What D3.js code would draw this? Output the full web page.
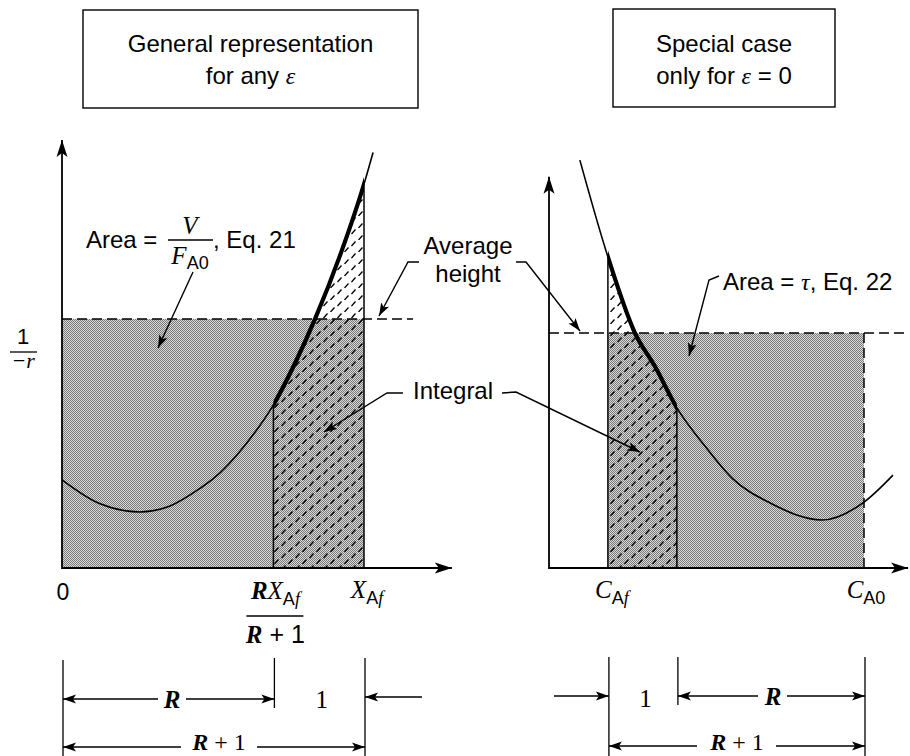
<!DOCTYPE html>
<html>
<head>
<meta charset="utf-8">
<script src="https://cdn.jsdelivr.net/npm/d3@7"></script>
<style>
  body { margin: 0; background: #fff; }
  svg { display: block; }
  text { font-family: "Liberation Sans", Arial, sans-serif; fill: #000; }
  .m { font-family: "Liberation Serif", "Times New Roman", serif; font-style: italic; }
  .b { font-weight: bold; }
  .s { font-family: "Liberation Serif", "Times New Roman", serif; }
</style>
</head>
<body>
<div id="chart"></div>
<script>
// 1/-r; left against conversion X_A, right against C_A
var leftX       = [0, 0.126, 0.258, 0.358, 0.457, 0.5, 0.606, 0.7, 0.772, 0.838, 0.921, 1.0, 1.03];
var leftInvRate = [20.6, 15.0, 13.1, 14.5, 18.6, 20.8, 28.7, 38.1, 47.9, 58.2, 73.1, 89.7, 97.1];
var rightC       = [0.098, 0.187, 0.273, 0.337, 0.406, 0.495, 0.581, 0.702, 0.867, 1.0, 1.092];
var rightInvRate = [95.3, 72.7, 54.9, 47.0, 37.4, 28.5, 21.0, 15.2, 11.2, 15.4, 21.7];

// marks on the x axes: 0, R X_Af/(R+1), X_Af  |  C_Af, split, C_A0
var leftMarks = [0, 0.7, 1.0];
var rightMarks = [0.187, 0.406, 1.0];
// average heights (dashed lines)
var leftAvg = 58.2, rightAvg = 54.9;

var boxTitles = ["General representation", "Special case"];

// set up the svg
var W = 910, H = 756;
var svg = d3.select("#chart").append("svg")
    .attr("width", W)
    .attr("height", H);
var defs = svg.append("defs");

// halftone grey
var grey = defs.append("pattern").attr("id", "grey")
    .attr("width", 2).attr("height", 2)
    .attr("patternUnits", "userSpaceOnUse");
grey.append("rect").attr("width", 2).attr("height", 2).attr("fill", "#d8d8d8");
grey.append("rect").attr("width", 1).attr("height", 1).attr("fill", "#7a7a7a");
grey.append("rect").attr("x", 1).attr("y", 1).attr("width", 1).attr("height", 1).attr("fill", "#7a7a7a");

// short slanted dashes for the integral
var hatch = defs.append("pattern").attr("id", "hatch")
    .attr("width", 14).attr("height", 12)
    .attr("patternUnits", "userSpaceOnUse");
hatch.append("path").attr("d", "M1.5,6L5.5,1.5M8.5,12L12.5,7.5")
    .attr("stroke", "#000").attr("stroke-width", 1.3).attr("fill", "none");

// arrow heads
defs.append("marker").attr("id", "arr")
    .attr("markerUnits", "userSpaceOnUse")
    .attr("markerWidth", 16).attr("markerHeight", 10)
    .attr("refX", 13).attr("refY", 5)
    .attr("orient", "auto-start-reverse")
    .append("path").attr("d", "M0,0.5L13,5L0,9.5L3,5Z").attr("fill", "#000");
defs.append("marker").attr("id", "axarr")
    .attr("markerUnits", "userSpaceOnUse")
    .attr("markerWidth", 20).attr("markerHeight", 12)
    .attr("refX", 17).attr("refY", 6)
    .attr("orient", "auto")
    .append("path").attr("d", "M0,0.5L17,6L0,11.5L4,6Z").attr("fill", "#000");

// scales
var y = d3.scaleLinear().domain([0, 100]).range([568, 140]);
var xL = d3.scaleLinear().domain([0, 1]).range([62, 364]);
var xR = d3.scaleLinear().domain([0, 1]).range([549, 864]);

function valueAt(xs, vs, v) {
    return vs[xs.indexOf(v)];
}

function drawPanel(id, x, xs, vs, intFrom, intTo, rectFrom, rectTo, avg, avgEnd, axisEnd, yTop) {
    var g = svg.append("g").attr("id", id);
    var pts = xs.map(function(d, i) { return [d, vs[i]]; });
    var line = d3.line()
        .x(function(d) { return x(d[0]); })
        .y(function(d) { return y(d[1]); })
        .curve(d3.curveMonotoneX);
    var area = d3.area()
        .x(function(d) { return x(d[0]); })
        .y0(y(0))
        .y1(function(d) { return y(d[1]); })
        .curve(d3.curveMonotoneX);

    defs.append("clipPath").attr("id", id + "-clip")
        .append("rect")
        .attr("x", x(intFrom)).attr("y", 0)
        .attr("width", x(intTo) - x(intFrom)).attr("height", y(0));

    // grey rectangle = area under the average height
    g.append("rect")
        .attr("x", x(rectFrom)).attr("y", y(avg))
        .attr("width", x(rectTo) - x(rectFrom))
        .attr("height", y(0) - y(avg))
        .attr("fill", "url(#grey)");

    // hatched integral
    g.append("path").datum(pts)
        .attr("d", area)
        .attr("clip-path", "url(#" + id + "-clip)")
        .attr("fill", "url(#hatch)");

    // dashed average height
    g.append("line")
        .attr("x1", x(0)).attr("x2", avgEnd)
        .attr("y1", y(avg)).attr("y2", y(avg))
        .attr("stroke", "#000").attr("stroke-width", 1.5)
        .attr("stroke-dasharray", "10,5");

    // solid verticals at the integral limits
    [intFrom, intTo].forEach(function(v) {
        g.append("line")
            .attr("x1", x(v)).attr("x2", x(v))
            .attr("y1", y(valueAt(xs, vs, v))).attr("y2", y(0))
            .attr("stroke", "#000").attr("stroke-width", 1.5);
    });

    // the curve, thick over the integral
    g.append("path").datum(pts)
        .attr("d", line)
        .attr("fill", "none").attr("stroke", "#000").attr("stroke-width", 1.6);
    g.append("path").datum(pts)
        .attr("d", line)
        .attr("clip-path", "url(#" + id + "-clip)")
        .attr("fill", "none").attr("stroke", "#000").attr("stroke-width", 4.2);

    // axes
    g.append("line")
        .attr("x1", x(0)).attr("x2", x(0))
        .attr("y1", y(0) + 1).attr("y2", y(yTop))
        .attr("stroke", "#000").attr("stroke-width", 1.8)
        .attr("marker-end", "url(#axarr)");
    g.append("line")
        .attr("x1", x(0)).attr("x2", x(axisEnd))
        .attr("y1", y(0)).attr("y2", y(0))
        .attr("stroke", "#000").attr("stroke-width", 2)
        .attr("marker-end", "url(#axarr)");
    return g;
}

var gl = drawPanel("left", xL, leftX, leftInvRate, leftMarks[1], leftMarks[2],
    leftMarks[0], leftMarks[2], leftAvg, 413, 1.291, 100);
var gr = drawPanel("right", xR, rightC, rightInvRate, rightMarks[0], rightMarks[1],
    rightMarks[0], rightMarks[2], rightAvg, 905, 1.14, 91.4);

// dashed right edge at C_A0
gr.append("line")
    .attr("x1", xR(rightMarks[2])).attr("x2", xR(rightMarks[2]))
    .attr("y1", y(rightAvg)).attr("y2", y(0))
    .attr("stroke", "#000").attr("stroke-width", 1.5)
    .attr("stroke-dasharray", "10,5");

// title boxes
function titleBox(x0, y0, w, h, l1, l2) {
    svg.append("rect").attr("x", x0).attr("y", y0).attr("width", w).attr("height", h)
        .attr("fill", "none").attr("stroke", "#000").attr("stroke-width", 1.4);
    svg.append("text").attr("x", x0 + w / 2).attr("y", 52)
        .attr("text-anchor", "middle").style("font-size", "24px").text(l1);
    var t = svg.append("text").attr("x", x0 + w / 2).attr("y", 84)
        .attr("text-anchor", "middle").style("font-size", "24px");
    l2(t);
}
titleBox(83, 10, 335, 98, boxTitles[0], function(t) {
    t.append("tspan").text("for any ");
    t.append("tspan").attr("class", "m").text("ε");
});
titleBox(613, 9, 222, 98, boxTitles[1], function(t) {
    t.append("tspan").text("only for ");
    t.append("tspan").attr("class", "m").text("ε");
    t.append("tspan").text(" = 0");
});

// y label 1/-r
svg.append("text").attr("x", 23).attr("y", 344).attr("text-anchor", "middle")
    .style("font-size", "22px").text("1");
svg.append("line").attr("x1", 10).attr("x2", 37).attr("y1", 352).attr("y2", 352)
    .attr("stroke", "#000").attr("stroke-width", 1.3);
svg.append("text").attr("x", 23).attr("y", 368).attr("text-anchor", "middle")
    .attr("class", "m").style("font-size", "22px").text("−r");

// Area = V/F_A0, Eq. 21
svg.append("text").attr("x", 86).attr("y", 248).style("font-size", "24px").text("Area =");
svg.append("text").attr("x", 190).attr("y", 234).attr("text-anchor", "middle")
    .attr("class", "m").style("font-size", "25px").text("V");
svg.append("line").attr("x1", 168).attr("x2", 213).attr("y1", 240).attr("y2", 240)
    .attr("stroke", "#000").attr("stroke-width", 1.3);
var fa = svg.append("text").attr("x", 190).attr("y", 264).attr("text-anchor", "middle")
    .style("font-size", "25px");
fa.append("tspan").attr("class", "m").text("F");
fa.append("tspan").attr("dy", 5).style("font-size", "18px").text("A0");
svg.append("text").attr("x", 213).attr("y", 248).style("font-size", "24px").text(", Eq. 21");

// Average height
svg.append("text").attr("x", 468).attr("y", 254).attr("text-anchor", "middle")
    .style("font-size", "24px").text("Average");
svg.append("text").attr("x", 468).attr("y", 282).attr("text-anchor", "middle")
    .style("font-size", "24px").text("height");

// Area = tau, Eq. 22
var at = svg.append("text").attr("x", 723).attr("y", 290).style("font-size", "24px");
at.append("tspan").text("Area = ");
at.append("tspan").attr("class", "m").text("τ");
at.append("tspan").text(", Eq. 22");

// Integral
svg.append("text").attr("x", 413).attr("y", 399).style("font-size", "24px").text("Integral");

// leader arrows
var leaders = [
    "M193,272L158,348",
    "M419,262L408,262L379,316",
    "M516,262L526,262L580,331",
    "M719,276L709,280L689,356",
    "M403,393L387,393L324,432",
    "M502,393L516,392L640,452"
];
leaders.forEach(function(d) {
    svg.append("path").attr("d", d)
        .attr("fill", "none").attr("stroke", "#000").attr("stroke-width", 1.4)
        .attr("marker-end", "url(#arr)");
});

// axis labels
svg.append("text").attr("x", xL(leftMarks[0]) + 1).attr("y", 600).attr("text-anchor", "middle")
    .style("font-size", "23px").text("0");

function subLabel(xc, yb, letter, sub, bold) {
    var t = svg.append("text").attr("x", xc).attr("y", yb).attr("text-anchor", "middle")
        .style("font-size", "25px");
    if (bold) t.append("tspan").attr("class", "m b").text(bold);
    t.append("tspan").attr("class", "m").text(letter);
    t.append("tspan").attr("dy", 6).style("font-size", "18px").text(sub[0]);
    if (sub[1] === "f") {
        t.append("tspan").attr("class", "m").style("font-size", "18px").text("f");
    } else {
        t.append("tspan").style("font-size", "18px").text(sub[1]);
    }
    return t;
}
subLabel(xL(leftMarks[1]) + 2, 599, "X", "Af", "R");
svg.append("line").attr("x1", xL(leftMarks[1]) - 27).attr("x2", xL(leftMarks[1]) + 30)
    .attr("y1", 616).attr("y2", 616).attr("stroke", "#000").attr("stroke-width", 1.4);
var den = svg.append("text").attr("x", xL(leftMarks[1]) + 2).attr("y", 643)
    .attr("text-anchor", "middle").style("font-size", "25px");
den.append("tspan").attr("class", "m b").text("R");
den.append("tspan").text(" + 1");
subLabel(xL(leftMarks[2]) + 3, 598, "X", "Af");
subLabel(xR(rightMarks[0]) + 4, 598, "C", "Af");
subLabel(xR(rightMarks[2]) + 2, 598, "C", "A0");

// dimension lines under the axes
function vtick(x, y1, y2) {
    svg.append("line").attr("x1", x).attr("x2", x).attr("y1", y1).attr("y2", y2)
        .attr("stroke", "#000").attr("stroke-width", 1.3);
}
function dimArrow(x1, x2, yy, start, end) {
    var l = svg.append("line").attr("x1", x1).attr("x2", x2).attr("y1", yy).attr("y2", yy)
        .attr("stroke", "#000").attr("stroke-width", 1.3);
    if (start) l.attr("marker-start", "url(#arr)");
    if (end) l.attr("marker-end", "url(#arr)");
}
function dimText(xc, yb, parts, size) {
    var t = svg.append("text").attr("x", xc).attr("y", yb).attr("text-anchor", "middle")
        .style("font-size", (size || 25) + "px");
    parts.forEach(function(p) {
        t.append("tspan").attr("class", p[1]).text(p[0]);
    });
}

// left panel dimensions
var a0 = xL(leftMarks[0]), a1 = xL(leftMarks[1]), a2 = xL(leftMarks[2]);
vtick(a0 + 1, 660, 756);
vtick(a1 + 1, 658, 708);
vtick(a2 + 1, 658, 756);
dimArrow(a0 + 1, 158, 699, true, false);
dimArrow(186, a1 + 1, 699, false, true);
dimText(172, 708, [["R", "m b"]]);
dimText((a1 + a2) / 2 + 3, 708, [["1", "s"]]);
dimArrow(422, a2 + 1, 697, false, true);
dimArrow(a0 + 1, 181, 747, true, false);
dimArrow(257, a2 + 1, 747, false, true);
dimText(219, 750, [["R", "m b"], [" + 1", "s"]], 24);

// right panel dimensions
var b0 = xR(rightMarks[0]), b1 = xR(rightMarks[1]), b2 = xR(rightMarks[2]);
vtick(b0 + 1, 657, 756);
vtick(b1 + 1, 657, 705);
vtick(b2 + 1, 657, 756);
dimArrow(554, b0 + 1, 696, false, true);
dimText((b0 + b1) / 2 + 3, 707, [["1", "s"]]);
dimArrow(b1 + 1, 758, 696, true, false);
dimArrow(787, b2 + 1, 696, false, true);
dimText(773, 705, [["R", "m b"]]);
dimArrow(b0 + 1, 697, 746, true, false);
dimArrow(776, b2 + 1, 746, false, true);
dimText(737, 750, [["R", "m b"], [" + 1", "s"]], 24);
</script>
</body>
</html>
